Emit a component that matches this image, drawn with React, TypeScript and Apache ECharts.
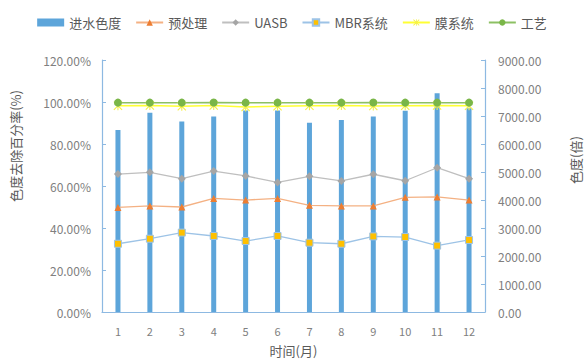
import React, { useEffect, useRef } from "react";
import * as echarts from "echarts";

const months = ["1", "2", "3", "4", "5", "6", "7", "8", "9", "10", "11", "12"];
const inflowColor = [6500, 7120, 6800, 6980, 7200, 7200, 6760, 6860, 6980, 7190, 7810, 7280];
const pretreat = [49.8, 50.5, 50.0, 54.1, 53.3, 54.1, 50.8, 50.5, 50.5, 54.6, 54.8, 53.3];
const uasb = [65.7, 66.5, 63.5, 67.1, 64.8, 61.7, 64.6, 62.4, 65.6, 62.5, 68.7, 63.5];
const mbr = [32.5, 34.9, 37.8, 36.2, 33.8, 36.2, 33.0, 32.5, 36.0, 35.7, 31.6, 34.3];
const membrane = [98.2, 98.3, 98.0, 98.3, 97.6, 98.0, 98.2, 98.3, 98.1, 98.2, 98.3, 98.2];
const process = [99.7, 99.7, 99.7, 99.8, 99.7, 99.7, 99.7, 99.7, 99.8, 99.7, 99.7, 99.7];

const axisBlue = "#8DB9E2";
const labelGrey = "#808080";
const font = "'Noto Sans CJK SC', 'Liberation Sans', sans-serif";
const asterisk =
  "path://M4.4,0L5.6,0L5.6,10L4.4,10ZM0,0.9L0.9,0L10,9.1L9.1,10ZM9.1,0L10,0.9L0.9,10L0,9.1Z";

export default function App() {
  const ref = useRef<HTMLDivElement>(null);
  useEffect(() => {
    if (!ref.current) return;
    const chart = echarts.init(ref.current, null, { renderer: "svg" });
    const lineBase = { type: "line", yAxisIndex: 0, symbolSize: 7, lineStyle: { width: 1.3 } };
    chart.setOption({
      animation: false,
      backgroundColor: "#ffffff",
      textStyle: { fontFamily: font },
      legend: {
        top: 11,
        left: "center",
        itemWidth: 27,
        itemHeight: 8,
        itemGap: 14,
        textStyle: { fontSize: 13, color: "#595959", fontFamily: font },
        data: [
          { name: "进水色度", icon: "rect" },
          "预处理",
          "UASB",
          "MBR系统",
          "膜系统",
          "工艺",
        ],
      },
      grid: { left: 102, right: 99, top: 60, bottom: 51 },
      xAxis: {
        type: "category",
        data: months,
        name: "时间(月)",
        nameLocation: "middle",
        nameGap: 32,
        nameTextStyle: { fontSize: 13, color: "#595959" },
        axisLine: { lineStyle: { color: axisBlue, width: 1.2 } },
        axisTick: { show: false },
        axisLabel: { color: labelGrey, fontSize: 11, margin: 13 },
      },
      yAxis: [
        {
          type: "value",
          min: 0,
          max: 120,
          interval: 20,
          position: "left",
          axisLine: { show: true, lineStyle: { color: axisBlue, width: 1.2 } },
          axisTick: { show: true, inside: true, length: 4, lineStyle: { color: axisBlue } },
          splitLine: { show: false },
          axisLabel: {
            color: labelGrey,
            fontSize: 12,
            margin: 11,
            formatter: (v: number) => v.toFixed(2) + "%",
          },
        },
        {
          type: "value",
          min: 0,
          max: 9000,
          interval: 1000,
          position: "right",
          axisLine: { show: true, lineStyle: { color: axisBlue, width: 1.2 } },
          axisTick: { show: true, inside: true, length: 4, lineStyle: { color: axisBlue } },
          splitLine: { show: false },
          axisLabel: {
            color: labelGrey,
            fontSize: 12,
            margin: 13,
            formatter: (v: number) => v.toFixed(2),
          },
        },
      ],
      graphic: [
        {
          type: "text",
          x: 15,
          y: 146,
          rotation: Math.PI / 2,
          style: {
            text: "色度去除百分率(%)",
            fill: "#595959",
            fontSize: 13,
            fontFamily: font,
            align: "center",
            verticalAlign: "middle",
          },
        },
        {
          type: "text",
          x: 575,
          y: 160,
          rotation: Math.PI / 2,
          style: {
            text: "色度(倍)",
            fill: "#595959",
            fontSize: 13,
            fontFamily: font,
            align: "center",
            verticalAlign: "middle",
          },
        },
      ],
      series: [
        {
          name: "进水色度",
          type: "bar",
          yAxisIndex: 1,
          data: inflowColor,
          barWidth: 5,
          itemStyle: { color: "#5DA5DA" },
        },
        {
          ...lineBase,
          name: "预处理",
          data: pretreat,
          symbol: "triangle",
          symbolSize: 7,
          itemStyle: { color: "#ED7D31" },
          lineStyle: { color: "#F4B183", width: 1.3 },
        },
        {
          ...lineBase,
          name: "UASB",
          data: uasb,
          symbol: "diamond",
          symbolSize: 8,
          itemStyle: { color: "#A5A5A5" },
          lineStyle: { color: "#BFBFBF", width: 1.3 },
        },
        {
          ...lineBase,
          name: "MBR系统",
          data: mbr,
          symbol: "rect",
          symbolSize: 7,
          itemStyle: { color: "#FFC000", borderColor: "#9DC3E6", borderWidth: 1 },
          lineStyle: { color: "#9DC3E6", width: 1.3 },
        },
        {
          ...lineBase,
          name: "膜系统",
          data: membrane,
          symbol: asterisk,
          symbolSize: 9,
          itemStyle: { color: "#F5F04A" },
          lineStyle: { color: "#FFFF33", width: 1.5 },
        },
        {
          ...lineBase,
          name: "工艺",
          data: process,
          symbol: "circle",
          symbolSize: 8,
          itemStyle: { color: "#7AB648" },
          lineStyle: { color: "#8CC063", width: 1.5 },
        },
      ],
    });
    return () => chart.dispose();
  }, []);
  return <div ref={ref} style={{ width: 584, height: 363, position: "absolute", left: 0, top: 0 }} />;
}
